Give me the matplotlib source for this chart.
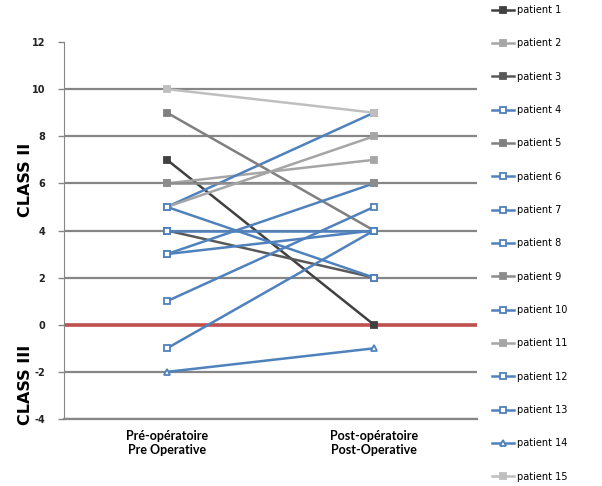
import matplotlib.pyplot as plt

# categories on the x axis
categories = ['Pré-opératoire\nPre Operative', 'Post-opératoire\nPost-Operative']

# patient names and values (pre, post)
patients = ['patient 1', 'patient 2', 'patient 3', 'patient 4', 'patient 5',
            'patient 6', 'patient 7', 'patient 8', 'patient 9', 'patient 10',
            'patient 11', 'patient 12', 'patient 13', 'patient 14', 'patient 15']
pre_values = [7, 6, 4, 5, 9, 3, 1, 4, 6, -1, 5, 5, 3, -2, 10]
post_values = [0, 7, 2, 9, 4, 6, 5, 4, 6, 4, 8, 2, 4, -1, 9]

yticks = [-4, -2, 0, 2, 4, 6, 8, 10, 12]

blue = '#4f81bd'
colors = ['#404040', '#a6a6a6', '#595959', blue, '#7f7f7f',
          blue, blue, blue, '#8c8c8c', blue,
          '#a5a5a5', blue, blue, blue, '#bfbfbf']
markers = ['s', 's', 's', 's', 's', 's', 's', 's', 's', 's', 's', 's', 's', '^', 's']

fig = plt.figure(figsize=(6.02, 4.86), dpi=100)
ax = fig.add_axes([63.5 / 602, 1 - 419 / 486, 414 / 602, 377 / 486])

x = [0.5, 1.5]
for i in range(len(patients)):
    c = colors[i]
    face = 'white' if c == blue else c
    ax.plot(x, [pre_values[i], post_values[i]], color=c, lw=1.8,
            marker=markers[i], markersize=5, markerfacecolor=face,
            markeredgecolor=c, markeredgewidth=1.3, label=patients[i], zorder=3 + i * 0.01)

# red baseline at zero
ax.axhline(0, color='#c0504d', lw=2.6, zorder=2.5)

ax.set_xlim(0, 2)
ax.set_ylim(-4, 12)
ax.set_yticks(yticks)
ax.set_yticklabels([str(v) for v in yticks], fontsize=7, fontweight='bold', color='#222222')
ax.set_xticks(x)
ax.set_xticklabels(categories, fontsize=9, fontweight='bold', family='Lato')
ax.tick_params(axis='x', length=0, pad=8)
ax.tick_params(axis='y', length=4, width=1, color='#868686', pad=9)

ax.yaxis.grid(True, color='#868686', lw=1.6, zorder=1)
ax.set_axisbelow(True)
ax.get_ygridlines()[-1].set_visible(False)

for s in ['top', 'right']:
    ax.spines[s].set_visible(False)
ax.spines['left'].set_color('#868686')
ax.spines['bottom'].set_color('#868686')
ax.spines['bottom'].set_linewidth(1.6)

fig.text(26 / 602, 1 - 180 / 486, 'CLASS II', rotation=90, fontsize=11.5,
         fontweight='bold', ha='center', va='center')
fig.text(26 / 602, 1 - 385 / 486, 'CLASS III', rotation=90, fontsize=11.5,
         fontweight='bold', ha='center', va='center')

fig.legend(loc='upper left', bbox_to_anchor=(490 / 602, 1 - 3 / 486), frameon=False,
           fontsize=7, labelspacing=2.4, handlelength=2.3, handletextpad=0.3,
           borderpad=0.2, borderaxespad=0)

plt.savefig('out.png', dpi=100)
